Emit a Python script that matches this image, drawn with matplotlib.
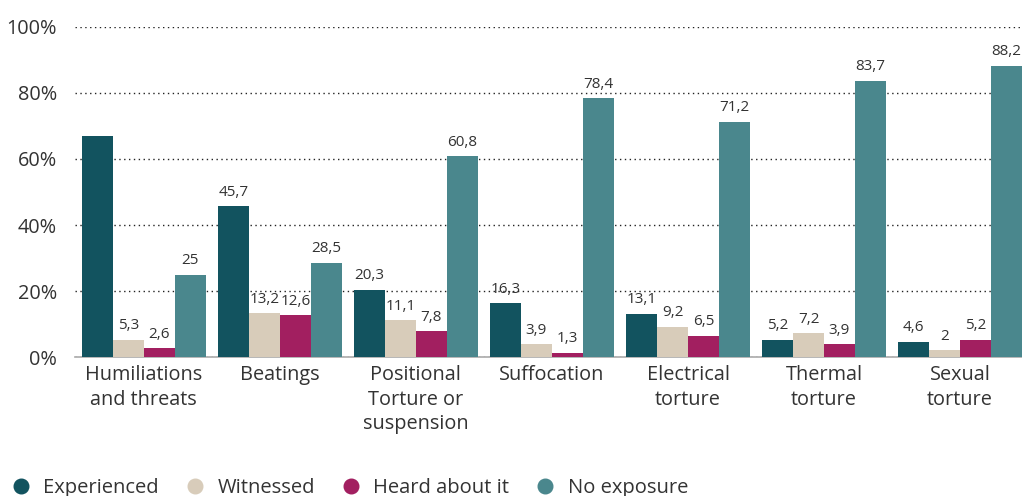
import matplotlib.pyplot as plt
from matplotlib.lines import Line2D
import numpy as np

plt.rcParams['font.family'] = ['Open Sans', 'DejaVu Sans']

categories = ['Humiliations\nand threats', 'Beatings', 'Positional\nTorture or\nsuspension',
              'Suffocation', 'Electrical\ntorture', 'Thermal\ntorture', 'Sexual\ntorture']
series_names = ['Experienced', 'Witnessed', 'Heard about it', 'No exposure']
experienced = [67.1, 45.7, 20.3, 16.3, 13.1, 5.2, 4.6]
witnessed = [5.3, 13.2, 11.1, 3.9, 9.2, 7.2, 2]
heard = [2.6, 12.6, 7.8, 1.3, 6.5, 3.9, 5.2]
no_exposure = [25, 28.5, 60.8, 78.4, 71.2, 83.7, 88.2]
colors = ['#12535f', '#d8ccba', '#a21f60', '#4a878d']

text_color = '#333333'

fig = plt.figure(figsize=(10.22, 4.96), dpi=100)
ax = fig.add_axes([0.0734, 0.2802, 0.9266, 0.6654])

x = np.arange(len(categories))
width = 0.227
all_series = [experienced, witnessed, heard, no_exposure]
for i, (vals, col) in enumerate(zip(all_series, colors)):
    pos = x + (i - 1.5) * width
    ax.bar(pos, vals, width, color=col, zorder=3)
    for j, (p, v) in enumerate(zip(pos, vals)):
        # first bar of the chart carries no value label
        if i == 0 and j == 0:
            continue
        lbl = ('%g' % v).replace('.', ',')
        ax.text(p, v + 2.0, lbl, ha='center', va='bottom', fontsize=11,
                color=text_color, clip_on=False)

ax.set_xlim(-0.506, 6.455)
ax.set_ylim(0, 100)
ax.set_yticks([0, 20, 40, 60, 80, 100])
ax.set_yticklabels(['0%', '20%', '40%', '60%', '80%', '100%'])
ax.set_xticks(x)
ax.set_xticklabels(categories, linespacing=1.28)
ax.tick_params(axis='both', length=0, labelsize=14.3, colors=text_color)
ax.tick_params(axis='y', pad=13)
ax.tick_params(axis='x', pad=6)
ax.yaxis.grid(True, linestyle=(0, (1, 2.5)), color='#222222', linewidth=1.0, zorder=0)
for s in ['top', 'right', 'left']:
    ax.spines[s].set_visible(False)
ax.spines['bottom'].set_color('#aaaaaa')
ax.spines['bottom'].set_linewidth(1.2)

handles = [Line2D([0], [0], marker='o', linestyle='none', markersize=10.5,
                  markerfacecolor=c, markeredgecolor=c) for c in colors]
fig.legend(handles, series_names, loc='lower left', bbox_to_anchor=(-0.007, -0.04),
           ncol=4, frameon=False, fontsize=14.5, handletextpad=0.6, handlelength=1.0,
           columnspacing=1.3, labelcolor=text_color)

fig.savefig('out.png', dpi=100)
